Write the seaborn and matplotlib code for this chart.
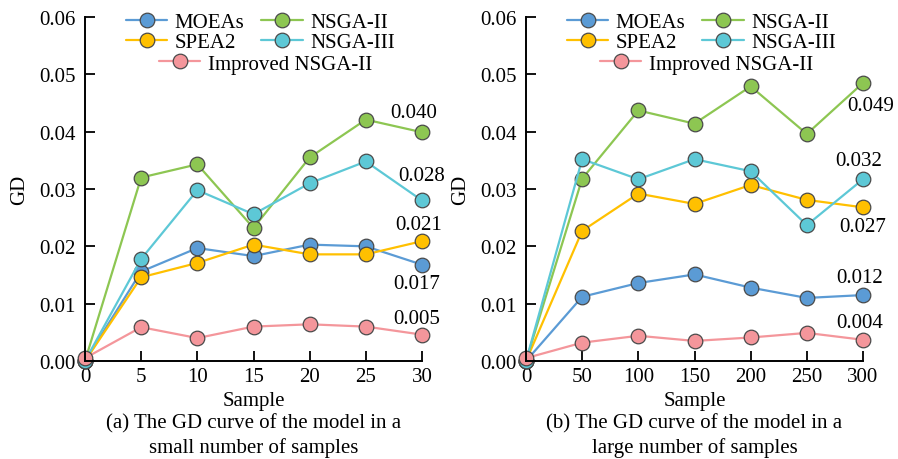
import seaborn as sns
import matplotlib.pyplot as plt
import pandas as pd
from matplotlib.lines import Line2D

# Data
methods = ["MOEAs", "SPEA2", "NSGA-II", "NSGA-III", "Improved NSGA-II"]
colors = ["#5B9BD5", "#FFC000", "#8DC652", "#5DC8D6", "#F4969B"]

small_x = [0, 5, 10, 15, 20, 25, 30]
small_moeas = [0.0, 0.0156, 0.0197, 0.0183, 0.0203, 0.0200, 0.0168]
small_spea2 = [0.0, 0.0146, 0.0171, 0.0203, 0.0186, 0.0186, 0.0209]
small_nsga2 = [0.0, 0.0320, 0.0343, 0.0232, 0.0355, 0.0421, 0.0399]
small_nsga3 = [0.0, 0.0178, 0.0298, 0.0256, 0.0310, 0.0348, 0.0280]
small_impr = [0.0005, 0.0059, 0.0040, 0.0060, 0.0064, 0.0060, 0.0046]

large_x = [0, 50, 100, 150, 200, 250, 300]
large_moeas = [0.0, 0.0112, 0.0136, 0.0151, 0.0128, 0.0110, 0.0115]
large_spea2 = [0.0, 0.0227, 0.0292, 0.0274, 0.0307, 0.0281, 0.0268]
large_nsga2 = [0.0, 0.0318, 0.0437, 0.0414, 0.0479, 0.0396, 0.0485]
large_nsga3 = [0.0, 0.0352, 0.0317, 0.0352, 0.0331, 0.0237, 0.0317]
large_impr = [0.0005, 0.0032, 0.0044, 0.0035, 0.0041, 0.0049, 0.0037]

small_labels = ["0.040", "0.028", "0.021", "0.017", "0.005"]
large_labels = ["0.049", "0.032", "0.027", "0.012", "0.004"]

captions = ["(a) The GD curve of the model in a\nsmall number of samples",
            "(b) The GD curve of the model in a\nlarge number of samples"]

sns.set_theme(style="white")
plt.rcParams['font.family'] = ['Liberation Serif', 'DejaVu Serif']
plt.rcParams['text.color'] = 'black'
plt.rcParams['axes.labelcolor'] = 'black'
FS = 15


def makeFrame(xs, series):
    rows = []
    for name, ys in zip(methods, series):
        for x, y in zip(xs, ys):
            rows.append({"Sample": x, "GD": y, "Method": name})
    return pd.DataFrame(rows)


def drawPanel(ax, xs, series, labels, offsets, caption):
    df = makeFrame(xs, series)
    sns.lineplot(data=df, x="Sample", y="GD", hue="Method", hue_order=methods,
                 palette=colors, marker="o", markersize=10.5, markeredgecolor="#4a4a4a",
                 markeredgewidth=0.9, linewidth=1.6, legend=False, ax=ax, clip_on=False)
    ax.set_xlim(xs[0], xs[-1])
    ax.set_ylim(0, 0.06)
    ax.set_xticks(xs)
    ax.set_yticks([0, 0.01, 0.02, 0.03, 0.04, 0.05, 0.06])
    ax.set_yticklabels([f"{v:.2f}" for v in ax.get_yticks()])
    ax.tick_params(direction="in", length=7, width=1.3, labelsize=FS, colors="black",
                   bottom=True, left=True)
    ax.tick_params(axis="y", pad=7)
    ax.tick_params(axis="x", pad=4)
    for side in ["top", "right"]:
        ax.spines[side].set_visible(False)
    for side in ["left", "bottom"]:
        ax.spines[side].set_color("black")
        ax.spines[side].set_linewidth(1.4)
    ax.set_xlabel("Sample", fontsize=FS, labelpad=4)
    ax.set_ylabel("GD", fontsize=FS, labelpad=7)
    ax.text(0.5, -0.152, caption, transform=ax.transAxes, ha="center", va="top",
            fontsize=FS, linespacing=1.3)

    # end-value labels: NSGA-II, NSGA-III, SPEA2, MOEAs, Improved
    order = [2, 3, 1, 0, 4]
    for lab, idx, off in zip(labels, order, offsets):
        ax.annotate(lab, (xs[-1], series[idx][-1]), xytext=off, textcoords="offset pixels",
                    ha="center", va="center", fontsize=FS)

    handles = [Line2D([], [], color=c, marker="o", markersize=10.5, markeredgecolor="#4a4a4a",
                      markeredgewidth=0.9, linewidth=1.6) for c in colors]
    leg1 = ax.legend([handles[0], handles[1], handles[2], handles[3]],
                     [methods[0], methods[1], methods[2], methods[3]],
                     ncol=2, loc="center", bbox_to_anchor=(0.52, 0.955), frameon=False,
                     fontsize=FS, handlelength=2.0, handletextpad=0.35, columnspacing=0.8,
                     labelspacing=0.0, borderpad=0, borderaxespad=0)
    ax.add_artist(leg1)
    ax.legend([handles[4]], [methods[4]], loc="center", bbox_to_anchor=(0.535, 0.864),
              frameon=False, fontsize=FS, handlelength=2.0, handletextpad=0.35,
              borderpad=0, borderaxespad=0)


fig = plt.figure(figsize=(8.98, 4.6), dpi=100)
ax1 = fig.add_axes([85 / 898, 1 - 362 / 460, 337 / 898, 344 / 460])
ax2 = fig.add_axes([526 / 898, 1 - 362 / 460, 337 / 898, 344 / 460])

drawPanel(ax1, small_x, [small_moeas, small_spea2, small_nsga2, small_nsga3, small_impr],
          small_labels, [(-8, 20), (0, 25), (-3, 17), (-5, -19), (-5, 16)], captions[0])
drawPanel(ax2, large_x, [large_moeas, large_spea2, large_nsga2, large_nsga3, large_impr],
          large_labels, [(8, -23), (-4, 19), (0, -19), (-3, 18), (-3, 17)], captions[1])

fig.savefig("out.png", dpi=100)
